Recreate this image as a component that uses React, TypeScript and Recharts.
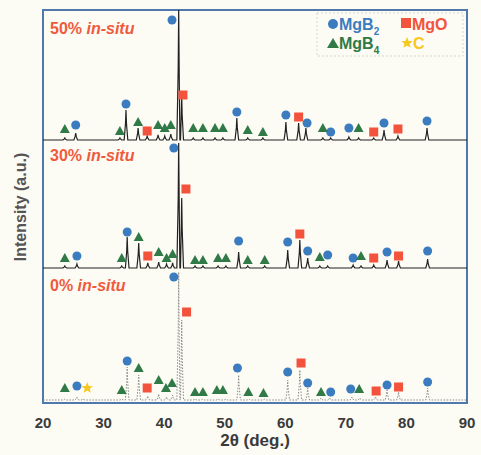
import { ComposedChart, Line, Scatter, XAxis, YAxis, ReferenceArea } from 'recharts';

// peak lists: [2theta, intensity above the trace baseline]
const peaks50 = [
  [23.6, 2], [25.4, 7], [32.7, 2], [33.7, 30], [35.7, 12], [37.2, 4], [39.0, 5], [40.1, 4],
  [41.1, 6], [42.4, 130], [42.9, 44], [44.8, 2], [46.4, 2], [48.4, 2], [49.7, 2], [52.0, 22],
  [53.8, 2], [56.3, 2], [60.1, 18], [62.2, 17], [63.4, 12], [66.2, 2], [67.5, 2], [70.5, 3],
  [72.1, 2], [74.6, 2], [76.3, 10], [78.6, 4], [83.4, 12],
];
const peaks30 = [
  [23.6, 2], [25.6, 4], [33.0, 2], [33.9, 31], [35.8, 25], [37.3, 5], [39.1, 6], [40.4, 4],
  [41.4, 5], [42.4, 125], [42.9, 70], [45.1, 2], [46.4, 2], [48.9, 2], [50.2, 2], [52.3, 16],
  [53.8, 2], [56.6, 2], [60.4, 18], [62.4, 28], [63.7, 10], [65.7, 2], [67.0, 2], [71.2, 3],
  [72.5, 2], [74.6, 3], [76.8, 8], [78.7, 7], [83.5, 9],
];
const peaks0 = [
  [23.6, 1], [25.6, 3], [26.6, 1], [33.0, 1], [33.9, 33], [35.8, 25], [37.3, 4], [39.1, 6],
  [40.4, 3], [41.4, 5], [42.4, 128], [42.9, 80], [45.1, 1], [46.4, 1], [48.9, 1], [50.2, 1],
  [52.3, 25], [54.0, 1], [56.6, 1], [60.4, 20], [62.4, 30], [63.7, 12], [65.9, 2], [67.3, 2],
  [71.0, 3], [72.3, 2], [74.9, 3], [76.8, 10], [78.7, 8], [83.5, 12],
];

// phase markers per pattern: [2theta, level above baseline]
const mgb2_50 = [[25.4, 15], [33.7, 36], [41.3, 120], [52.0, 28], [60.1, 25], [63.6, 17], [67.5, 8], [70.5, 12], [76.3, 17], [83.4, 19]];
const mgb4_50 = [[23.6, 11], [32.7, 9], [35.7, 18], [39.0, 15], [40.1, 12], [41.1, 15], [44.8, 12], [46.4, 12], [48.4, 12], [49.7, 12], [53.8, 10], [56.3, 8], [66.2, 12], [72.1, 12]];
const mgo_50 = [[37.2, 9], [43.1, 45], [62.2, 23], [74.6, 8], [78.6, 11]];

const mgb2_30 = [[25.6, 12], [33.9, 36], [41.6, 120], [52.3, 27], [60.4, 26], [63.7, 17], [67.0, 13], [71.2, 10], [76.8, 16], [83.5, 17]];
const mgb4_30 = [[23.6, 10], [33.0, 10], [35.8, 31], [39.1, 16], [40.4, 10], [41.4, 14], [45.1, 8], [46.4, 8], [48.9, 10], [50.2, 10], [53.8, 8], [56.6, 8], [65.7, 11], [72.5, 12]];
const mgo_30 = [[37.3, 12], [43.6, 79], [62.4, 34], [74.6, 10], [78.7, 12]];

const mgb2_0 = [[25.6, 14], [33.9, 39], [41.6, 123], [52.1, 32], [60.4, 28], [63.7, 17], [67.5, 8], [70.8, 11], [76.8, 15], [83.5, 18]];
const mgb4_0 = [[23.6, 12], [33.0, 10], [35.8, 32], [39.1, 20], [40.3, 12], [41.3, 17], [45.1, 8], [46.4, 8], [48.7, 10], [49.7, 10], [53.9, 8], [56.4, 7], [65.9, 8], [72.2, 11]];
const mgo_0 = [[37.2, 12], [43.7, 88], [62.6, 37], [75.0, 9], [78.7, 13]];
const carbon_0 = [[27.3, 12]];

const xTicks = [20, 30, 40, 50, 60, 70, 80, 90];

// vertical offsets of the stacked patterns
const OFF50 = 263;
const OFF30 = 135;
const OFF0 = 3;
const YMAX = 393;

function trace(peaks: number[][], off: number) {
  const pts: { x: number; y: number }[] = [{ x: 20, y: off }, { x: 90, y: off }];
  peaks.forEach(([x, h]) => {
    pts.push({ x: x - 0.3, y: off }, { x: x - 0.08, y: off + h * 0.55 }, { x, y: off + h }, { x: x + 0.08, y: off + h * 0.55 }, { x: x + 0.3, y: off });
  });
  return pts.sort((a, b) => a.x - b.x);
}

function marks(list: number[][], off: number) {
  return list.map(([x, l]) => ({ x, y: off + l }));
}

const Circle = (p: any) => <circle cx={p.cx} cy={p.cy} r={4.5} fill="#3b7cc0" />;
const Tri = (p: any) => (
  <polygon points={`${p.cx - 5},${p.cy + 4} ${p.cx + 5},${p.cy + 4} ${p.cx},${p.cy - 5}`} fill="#2f7a46" />
);
const Sq = (p: any) => <rect x={p.cx - 4.5} y={p.cy - 4.5} width={9} height={9} fill="#f3533d" />;
const Star = (p: any) => {
  const pts: string[] = [];
  for (let i = 0; i < 10; i++) {
    const r = i % 2 === 0 ? 6 : 2.6;
    const a = -Math.PI / 2 + (i * Math.PI) / 5;
    pts.push(`${p.cx + r * Math.cos(a)},${p.cy + r * Math.sin(a)}`);
  }
  return <polygon points={pts.join(' ')} fill="#f6c81c" />;
};

const font = '"Liberation Sans", Arial, sans-serif';

export default function App() {
  const circles = [...marks(mgb2_50, OFF50), ...marks(mgb2_30, OFF30), ...marks(mgb2_0, OFF0)];
  const tris = [...marks(mgb4_50, OFF50), ...marks(mgb4_30, OFF30), ...marks(mgb4_0, OFF0)];
  const squares = [...marks(mgo_50, OFF50), ...marks(mgo_30, OFF30), ...marks(mgo_0, OFF0)];
  const stars = marks(carbon_0, OFF0);

  return (
    <div style={{ position: 'absolute', left: 0, top: 0, width: 481, height: 455, background: '#fcfbf4' }}>
      <ComposedChart width={481} height={455} margin={{ top: 10, right: 14, bottom: 22, left: 43 }}>
        <XAxis
          dataKey="x"
          type="number"
          domain={[20, 90]}
          ticks={xTicks}
          height={30}
          axisLine={false}
          tickLine={false}
          tickMargin={8}
          tick={{ fontSize: 15, fontWeight: 'bold', fill: '#3a3a3a', fontFamily: font }}
          allowDataOverflow
        />
        <YAxis type="number" domain={[0, YMAX]} hide allowDataOverflow />
        <ReferenceArea x1={20} x2={90} y1={0} y2={YMAX} fill="none" stroke="#4f78ad" strokeWidth={2} ifOverflow="visible" />
        <Line data={trace(peaks50, OFF50)} dataKey="y" type="linear" stroke="#222" strokeWidth={1.2} dot={false} isAnimationActive={false} />
        <Line data={trace(peaks30, OFF30)} dataKey="y" type="linear" stroke="#222" strokeWidth={1.2} dot={false} isAnimationActive={false} />
        <Line data={trace(peaks0, OFF0)} dataKey="y" type="linear" stroke="#8a8a8a" strokeWidth={1} strokeDasharray="1.5 1.5" dot={false} isAnimationActive={false} />
        <Scatter data={circles} dataKey="y" shape={Circle} isAnimationActive={false} />
        <Scatter data={tris} dataKey="y" shape={Tri} isAnimationActive={false} />
        <Scatter data={squares} dataKey="y" shape={Sq} isAnimationActive={false} />
        <Scatter data={stars} dataKey="y" shape={Star} isAnimationActive={false} />
      </ComposedChart>
      <svg width={481} height={455} style={{ position: 'absolute', left: 0, top: 0, pointerEvents: 'none' }} fontFamily={font}>
        <rect x={317} y={13} width={146} height={43} fill="none" stroke="#d8d6cc" strokeDasharray="2 2" />
        <circle cx={333} cy={24} r={5} fill="#3b7cc0" />
        <text x={339} y={30} fontSize={16} fontWeight="bold" fill="#3b7cc0">MgB<tspan fontSize={10} dy={5}>2</tspan></text>
        <rect x={401} y={18} width={10} height={10} fill="#f3533d" />
        <text x={412} y={30} fontSize={16} fontWeight="bold" fill="#f3533d">MgO</text>
        <polygon points="327,48 339,48 333,38" fill="#2f7a46" />
        <text x={339} y={49} fontSize={16} fontWeight="bold" fill="#2f7a46">MgB<tspan fontSize={10} dy={5}>4</tspan></text>
        <Star cx={407} cy={43} />
        <text x={413} y={49} fontSize={16} fontWeight="bold" fill="#f6c81c">C</text>

        <text x={50} y={34} fontSize={16} fontWeight="bold" fill="#f05a3c">50% <tspan fontStyle="italic">in-situ</tspan></text>
        <text x={50} y={161} fontSize={16} fontWeight="bold" fill="#f05a3c">30% <tspan fontStyle="italic">in-situ</tspan></text>
        <text x={50} y={291} fontSize={16} fontWeight="bold" fill="#f05a3c">0% <tspan fontStyle="italic">in-situ</tspan></text>

        <text x={255} y={446} textAnchor="middle" fontSize={17} fontWeight="bold" fill="#3a3a3a">2θ  (deg.)</text>
        <text x={26} y={207} textAnchor="middle" transform="rotate(-90 26 207)" fontSize={16} fontWeight="bold" fill="#555">Intensity (a.u.)</text>
      </svg>
    </div>
  );
}
